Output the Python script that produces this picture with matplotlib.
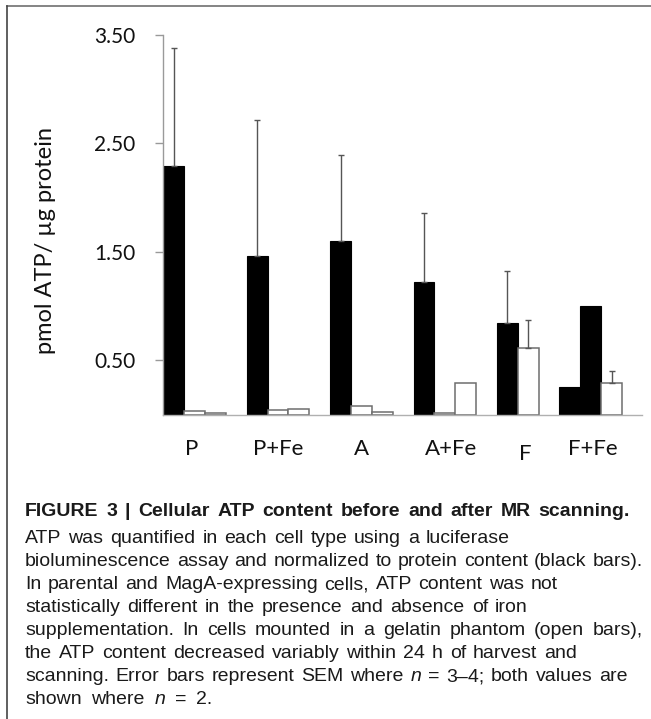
import matplotlib
matplotlib.use("Agg")
import matplotlib.pyplot as plt
from matplotlib.lines import Line2D
from matplotlib.transforms import ScaledTranslation

# ---------------- data ----------------
categories = ['P', 'P+Fe', 'A', 'A+Fe', 'F', 'F+Fe']
# black bars: ATP before scanning (F+Fe: n = 2, both values shown)
before_values = [[2.29], [1.465], [1.597], [1.222], [0.849], [0.255, 1.006]]
before_err = [[1.09], [1.255], [0.80], [0.637], [0.478], [0.0, 0.0]]
# open bars: ATP after scanning in gelatin phantom
after_values = [[0.030, 0.015], [0.040, 0.052], [0.083, 0.024], [0.015, 0.288], [0.612], [0.288]]
after_err = [[0.0, 0.0], [0.0, 0.0], [0.0, 0.0], [0.0, 0.0], [0.261], [0.114]]
yticks = [0.5, 1.5, 2.5, 3.5]
ylabel = 'pmol ATP/ µg protein'

caption_title = 'FIGURE 3 | Cellular ATP content before and after MR scanning.'
caption_lines = [
    'ATP was quantified in each cell type using a luciferase',
    'bioluminescence assay and normalized to protein content (black bars).',
    'In parental and MagA-expressing cells, ATP content was not',
    'statistically different in the presence and absence of iron',
    'supplementation. In cells mounted in a gelatin phantom (open bars),',
    'the ATP content decreased variably within 24 h of harvest and',
    'scanning. Error bars represent SEM where n = 3–4; both values are',
    'shown where n = 2.',
]

# ---------------- layout ----------------
W, H = 651, 719
DPI = 100
bar_w = 0.25
label_pos = [-0.03, 1.0, 2.0, 3.07, 3.97, 4.77]
label_drop = [0, 0, 0, 0, 5, 0]   # px extra drop of tick label
title_right = 630
line_right = [510, 643, 558, 528, 643, 577, 628, 212]

fig = plt.figure(figsize=(W / DPI, H / DPI), dpi=DPI)
fig.patch.set_facecolor('white')

ax_l, ax_r, ax_t, ax_b = 163.3, 641.7, 35.0, 414.7
ax = fig.add_axes([ax_l / W, 1 - ax_b / H, (ax_r - ax_l) / W, (ax_b - ax_t) / H])

chart_font = ['Lato', 'DejaVu Sans']

for gi, cat in enumerate(categories):
    nb = len(before_values[gi])
    for j, (v, e) in enumerate(zip(before_values[gi], before_err[gi])):
        x = gi - bar_w * (nb - j)
        ax.bar(x, v, width=bar_w, color='black', edgecolor='black', linewidth=0.8, zorder=2)
        if e > 0:
            ax.errorbar(x, v, yerr=[[0], [e]], fmt='none', ecolor='#555555',
                        elinewidth=1.0, capsize=2, capthick=1.0, zorder=3)
    for j, (v, e) in enumerate(zip(after_values[gi], after_err[gi])):
        x = gi + bar_w * j
        ax.bar(x, v, width=bar_w, color='white', edgecolor='#6e6e6e', linewidth=1.1, zorder=2)
        if e > 0:
            ax.errorbar(x, v, yerr=[[0], [e]], fmt='none', ecolor='#555555',
                        elinewidth=1.0, capsize=2, capthick=1.0, zorder=3)

ax.set_xlim(-0.375, -0.375 + (ax_r - ax_l) / 83.4)
ax.set_ylim(0, 3.5)
ax.set_yticks(yticks)
ax.set_yticklabels(['%.2f' % t for t in yticks], fontsize=15, family=chart_font, color='#111111')
ax.tick_params(axis='y', length=6, width=1, color='#999999', pad=14)
ax.set_xticks([])
for s in ['top', 'right']:
    ax.spines[s].set_visible(False)
ax.spines['left'].set_color('#9a9a9a')
ax.spines['bottom'].set_color('#b0b0b0')
ax.spines['left'].set_linewidth(1.0)
ax.spines['bottom'].set_linewidth(1.0)

# x category labels (baseline ~40 px below axis)
for gi, cat in enumerate(categories):
    off = ScaledTranslation(0, -(40.3 + label_drop[gi]) / DPI, fig.dpi_scale_trans)
    ax.text(label_pos[gi], 0, cat, transform=ax.get_xaxis_transform() + off,
            ha='center', va='baseline', fontsize=16, family=chart_font, color='#111111')

fig.text(46 / W, 1 - 240 / H, ylabel, rotation=90, ha='center', va='center',
         fontsize=17, family=chart_font, color='#111111')

# frame lines (top and left)
fig.add_artist(Line2D([6.5 / W, 1], [1 - 5.7 / H, 1 - 5.7 / H], transform=fig.transFigure,
                      color='#707070', linewidth=1.2))
fig.add_artist(Line2D([6.5 / W, 6.5 / W], [0, 1 - 5.7 / H], transform=fig.transFigure,
                      color='#444444', linewidth=1.2))

# ---------------- caption (justified word placement) ----------------
renderer = fig.canvas.get_renderer()
cap_font = ['Liberation Sans', 'DejaVu Sans']


def place_line(text, x0, x1, y, size, weight):
    words = text.split(' ')
    objs = []
    widths = []
    for w in words:
        style = 'italic' if w == 'n' else 'normal'
        t = fig.text(0, 1 - y / H, w, fontsize=size, fontweight=weight, fontstyle=style,
                     family=cap_font, ha='left', va='baseline', color='#1a1a1a')
        objs.append(t)
        widths.append(t.get_window_extent(renderer).width)
    space = size * DPI / 72 * 0.25
    if len(words) > 1:
        gap = (x1 - x0 - sum(widths)) / (len(words) - 1)
        gap = max(gap, space)
    else:
        gap = 0
    x = x0
    for t, wd in zip(objs, widths):
        t.set_x(x / W)
        x += wd + gap


place_line(caption_title, 25, title_right, 516, 14, 'bold')
for k, line in enumerate(caption_lines):
    place_line(line, 25, line_right[k], 543 + 23 * k, 14, 'normal')

fig.savefig('out.png', dpi=DPI, facecolor='white')
